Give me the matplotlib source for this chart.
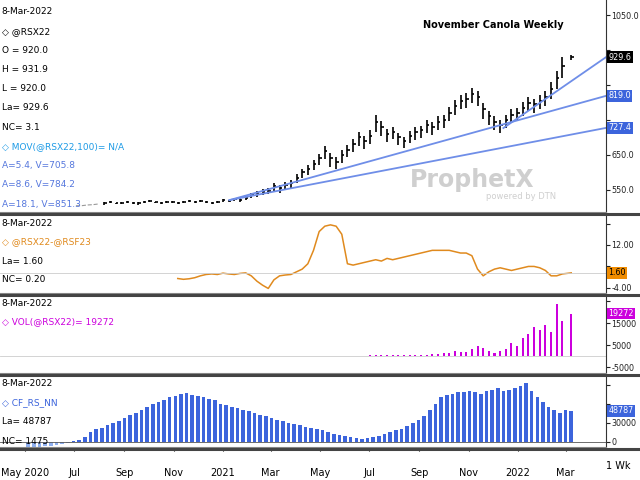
import matplotlib
matplotlib.use("Agg")
import matplotlib.pyplot as plt
import matplotlib.dates as mdates
import pandas as pd
import numpy as np

# ---- data ----
price_close = [505,505,507,508,510,
    512,515,512,514, 516,514,512,516, 518,515,513,517,516, 514,516,518,515, 518,516,514,517,
    520,519,524,522,528, 535,540,545,548, 560,555,565,570, 585,600,610,625,640,
    660,640,630,650, 665,680,700,690, 705,745,730,710,715, 700,690,705,715, 720,735,730,745,
    750,770,790,805,810, 825,815,780,760, 745,735,750,765,770, 785,800,795,805,
    815,840,870,905, 929.6]
price_range = [4,4,4,4,4,
    6,6,5,6, 6,5,6,6, 6,5,6,6,5, 6,6,5,6, 6,5,6,6,
    8,8,10,10,12, 14,16,16,18, 22,24,22,24, 26,28,30,30,32,
    38,40,34,36, 36,38,40,36, 40,48,42,36,34, 34,32,34,36, 34,38,36,38,
    38,40,42,40,42, 44,42,46,40, 38,36,38,40,36, 38,42,40,40,
    44,48,52,60, 12]
spread = [-0.5,-0.8,-0.6,-0.2, 0.5,1.0,1.2,1.0, 1.5,1.2,1.0,1.4,1.6, 0.5,-1.5,-3,-4.2,
    -1,0.5,0.8,1.0, 2,3,5,10,17, 19,19.5,19,16, 5,4.5,5,5.5, 6,6.5,6,7,6.5,
    7,7.5,8,8.5, 9,9.5,10,10, 10,10,9.5,9,9, 8,3,0.5,2, 3,3.5,3,2.5,3,
    3.5,4,4,3.5, 2.5,0.5,0.5,1.2, 1.6]
volume = [400,500,300,600,400, 500,400,600,500, 700,500,800,900,
    1200,1500,2500,1800,2000, 3000,4500,3500,2500, 1500,2500,3000,6000,4500,
    8000,10000,13000,12000, 14000,11000,23500,16000, 19272]
cot = [-9000,-8000,-8500,-6000, -7000,-5000,-4000,-2000,1000, 3000,8000,15000,20000,
    22000,27000,30000,33000, 38000,42000,45000,50000,55000, 60000,62000,66000,70000,
    72000,75000,77000,74000, 72000,70000,68000,66000,60000, 58000,55000,53000,50000,
    48000,45000,42000,40000, 38000,35000,33000,30000,28000, 26000,24000,22000,20000,
    18000,15000,13000,11000, 9000,7000,6000,5000,6000, 7000,9000,12000,15000,
    18000,20000,25000,30000,35000, 40000,50000,60000,70000, 74000,76000,78000,79000,
    80000,78000,76000,80000,82000, 84000,80000,82000,85000, 88000,92000,80000,70000,
    62000,55000,50000,45000, 50000,48787]
month_labels = ["May 2020","Jul","Sep","Nov","2021","Mar","May","Jul","Sep","Nov","2022","Mar"]
month_ticks = ["2020-05-01","2020-07-01","2020-09-01","2020-11-01","2021-01-01","2021-03-01",
               "2021-05-01","2021-07-01","2021-09-01","2021-11-01","2022-01-01","2022-03-01"]

dates = list(pd.date_range("2020-07-03", periods=len(price_close), freq="W-FRI"))
dates[-1] = pd.Timestamp("2022-03-08")
dates = pd.DatetimeIndex(dates)
cot_dates = pd.date_range("2020-05-05", periods=len(cot), freq="W-TUE")

fig = plt.figure(figsize=(6.4, 4.8), dpi=100)
W = 606/640
def ax_at(top, bot):
    return fig.add_axes([0, 1-bot/480, W, (bot-top)/480])
ax1 = ax_at(0, 212); ax2 = ax_at(216, 293); ax3 = ax_at(296, 373); ax4 = ax_at(377, 447)
xl = (pd.Timestamp("2020-03-31"), pd.Timestamp("2022-04-20"))
for a in (ax1, ax2, ax3, ax4):
    a.set_xlim(xl)
    a.yaxis.tick_right()
    a.tick_params(axis="y", labelsize=5.8, length=3, pad=1, colors="#222")
    a.tick_params(axis="x", length=3, labelbottom=False)
    a.xaxis.set_major_locator(mdates.MonthLocator())
    for s in ("top", "left"):
        a.spines[s].set_visible(False)
    a.spines["bottom"].set_color("#888")
    a.spines["right"].set_color("#333")

def box(ax, val, txt, fc, tc="white"):
    ax.text(1.004, val, txt, transform=ax.get_yaxis_transform(), fontsize=5.8, color=tc,
            va="center", bbox=dict(boxstyle="square,pad=0.15", fc=fc, ec="none"))

# main price
pc = np.array(price_close); pr = np.array(price_range)
ax1.set_ylim(487, 1093)
ax1.plot(dates[:5], pc[:5], color="#999", ls="--", lw=0.8)
ax1.vlines(dates[5:], pc[5:]-pr[5:]*0.6, pc[5:]+pr[5:]*0.4, color="black", lw=1.2)
ax1.hlines(pc[5:], dates[5:], dates[5:]+pd.Timedelta(days=3), color="black", lw=1.2)
x0 = mdates.date2num(pd.Timestamp("2021-01-09")); xe = mdates.date2num(xl[1])
ax1.plot([x0, xe], [521, 819.0], color="#6f8ee8", lw=1.3)
ax1.plot([x0, xe], [521, 727.4], color="#6f8ee8", lw=1.3)
ax1.plot([mdates.date2num(pd.Timestamp("2021-12-14")), xe], [727, 929.6], color="#6f8ee8", lw=1.3)
ax1.set_yticks([550, 650, 750, 850, 950, 1050])
ax1.set_yticklabels(["550.0", "650.0", "", "", "", "1050.0"])
ax1.text(0.93, 0.87, "November Canola Weekly", transform=ax1.transAxes, fontsize=7,
         ha="right", fontweight="bold")
ax1.text(0.78, 0.12, "ProphetX", transform=ax1.transAxes, fontsize=17, color="#cfcfcf",
         fontweight="bold", ha="center")
ax1.text(0.86, 0.06, "powered by DTN", transform=ax1.transAxes, fontsize=6, color="#cfcfcf", ha="center")
box(ax1, 929.6, "929.6", "black")
box(ax1, 819.0, "819.0", "#3c64dc")
box(ax1, 727.4, "727.4", "#3c64dc")
leg1 = [("8-Mar-2022", "black"), ("◇ @RSX22", "black"), ("O = 920.0", "black"), ("H = 931.9", "black"),
        ("L = 920.0", "black"), ("La= 929.6", "black"), ("NC= 3.1", "black"),
        ("◇ MOV(@RSX22,100)= N/A", "#1e9be6"), ("A=5.4, V=705.8", "#5577dd"),
        ("A=8.6, V=784.2", "#5577dd"), ("A=18.1, V=851.3", "#5577dd")]
for i, (t, c) in enumerate(leg1):
    ax1.text(0.003, 1-(12+i*19.2)/212, t, transform=ax1.transAxes, fontsize=6.5, color=c, va="center")

# spread
ax2.set_ylim(-5.9, 22.8)
ax2.plot(dates[18:], spread, color="#e08a1e", lw=1.1)
ax2.axhline(1.6, color="#ccc", lw=0.6)
ax2.set_yticks([-4, 4, 12, 20]); ax2.set_yticklabels(["-4.00", "", "12.00", ""])
box(ax2, 1.6, "1.60", "#f08c00", "black")
for i, (t, c) in enumerate([("8-Mar-2022", "black"), ("◇ @RSX22-@RSF23", "#e08a1e"),
                            ("La= 1.60", "black"), ("NC= 0.20", "black")]):
    ax2.text(0.003, 1-(7+i*19)/77, t, transform=ax2.transAxes, fontsize=6.5, color=c, va="center")

# volume
ax3.set_ylim(-7700, 27300)
ax3.bar(dates[52:], volume, width=2.5, color="#cc00dd")
ax3.axhline(0, color="#ccc", lw=0.6)
ax3.set_yticks([-5000, 5000, 15000, 25000]); ax3.set_yticklabels(["-5000", "5000", "15000", ""])
box(ax3, 19272, "19272", "#cc00dd")
for i, (t, c) in enumerate([("8-Mar-2022", "black"), ("◇ VOL(@RSX22)= 19272", "#cc00dd")]):
    ax3.text(0.003, 1-(7+i*19)/77, t, transform=ax3.transAxes, fontsize=6.5, color=c, va="center")

# cot
ax4.set_ylim(-8000, 102000)
cv = np.array(cot)
ax4.bar(cot_dates, cv, width=4.5, color=np.where(cv < 0, "#8fb0f0", "#3c64dc"))
ax4.axhline(0, color="#555", lw=0.6)
ax4.set_yticks([0, 30000, 60000, 90000]); ax4.set_yticklabels(["0", "30000", "", ""])
box(ax4, 48787, "48787", "#3c64dc")
for i, (t, c) in enumerate([("8-Mar-2022", "black"), ("◇ CF_RS_NN", "#3c64dc"),
                            ("La= 48787", "black"), ("NC= 1475", "black")]):
    ax4.text(0.003, 1-(7+i*19)/70, t, transform=ax4.transAxes, fontsize=6.5, color=c, va="center")
ax4.tick_params(axis="x", labelbottom=True, labelsize=7, pad=12)
ax4.set_xticks(pd.to_datetime(month_ticks), minor=False)
ax4.set_xticklabels(month_labels)
ax4.xaxis.set_minor_locator(mdates.MonthLocator())
fig.text(0.985, 1-466/480, "1 Wk", fontsize=7, ha="right", va="center")

# panel separators
for y in (214, 294.5, 375, 449):
    fig.add_artist(plt.Line2D([0, 1], [1-y/480]*2, color="#444", lw=2.2))

fig.savefig("out.png", dpi=100)
